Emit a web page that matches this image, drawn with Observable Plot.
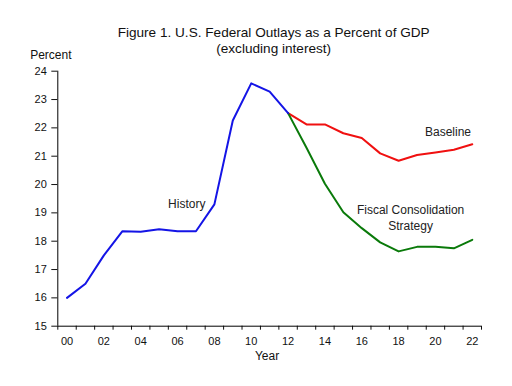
<!DOCTYPE html>
<html>
<head>
<meta charset="utf-8">
<script src="https://cdn.jsdelivr.net/npm/d3@7"></script>
<script src="https://cdn.jsdelivr.net/npm/@observablehq/plot@0.6"></script>
<style>
  html, body { margin: 0; padding: 0; background: #fff; }
</style>
</head>
<body>
<div id="chart"></div>
<script>
const titleLine1 = "Figure 1. U.S. Federal Outlays as a Percent of GDP";
const titleLine2 = "(excluding interest)";
const yLabel = "Percent";
const xLabel = "Year";

const historyYears = [2000, 2001, 2002, 2003, 2004, 2005, 2006, 2007, 2008, 2009, 2010, 2011, 2012];
const historyValues = [16.0, 16.5, 17.5, 18.35, 18.33, 18.42, 18.35, 18.35, 19.3, 22.26, 23.57, 23.28, 22.52];

const projYears = [2012, 2013, 2014, 2015, 2016, 2017, 2018, 2019, 2020, 2021, 2022];
const baselineValues = [22.52, 22.12, 22.12, 21.81, 21.64, 21.1, 20.84, 21.04, 21.13, 21.23, 21.42];
const fiscalValues = [22.52, 21.3, 20.03, 19.02, 18.46, 17.96, 17.64, 17.8, 17.8, 17.75, 18.05];

const yTicks = [15, 16, 17, 18, 19, 20, 21, 22, 23, 24];
const xLabelYears = [2000, 2002, 2004, 2006, 2008, 2010, 2012, 2014, 2016, 2018, 2020, 2022];

const annotations = [
  {x: 2006.5, y: 19.34, text: "History"},
  {x: 2020.68, y: 21.88, text: "Baseline"},
  {x: 2018.65, y: 18.85, text: "Fiscal Consolidation\nStrategy"}
];

const history = historyYears.map((x, i) => ({x, y: historyValues[i]}));
const baseline = projYears.map((x, i) => ({x, y: baselineValues[i]}));
const fiscal = projYears.map((x, i) => ({x, y: fiscalValues[i]}));

const xMin = historyYears[0] - 0.5;
const xMax = projYears[projYears.length - 1] + 0.5;
const bandEdges = d3.range(xMin, xMax + 0.001, 1);

const font = "'Liberation Sans', Arial, sans-serif";

const chart = Plot.plot({
  width: 512,
  height: 386,
  marginLeft: 57.3,
  marginRight: 31,
  marginTop: 70.7,
  marginBottom: 60.3,
  style: {fontFamily: font, fontSize: "11px", color: "#111", background: "#fff"},
  x: {domain: [xMin, xMax]},
  y: {domain: [15, 24]},
  marks: [
    Plot.axisY({ticks: yTicks, tickSize: 6, tickPadding: 5, label: null, fontSize: 11}),
    Plot.axisX({ticks: bandEdges, tickSize: 4, tickFormat: () => "", label: null}),
    Plot.axisX({ticks: xLabelYears, tickSize: 0, tickPadding: 11, label: null, fontSize: 11,
      tickFormat: d => String(d % 100).padStart(2, "0")}),
    Plot.ruleX([xMin], {stroke: "#000"}),
    Plot.ruleY([15], {stroke: "#000"}),
    Plot.line(baseline, {x: "x", y: "y", stroke: "#f01010", strokeWidth: 2}),
    Plot.line(fiscal, {x: "x", y: "y", stroke: "#0a7a0a", strokeWidth: 2}),
    Plot.line(history, {x: "x", y: "y", stroke: "#1414e6", strokeWidth: 2}),
    Plot.text(annotations, {x: "x", y: "y", text: "text", fontSize: 12, fill: "#222", lineHeight: 1.27, lineAnchor: "middle"}),
    Plot.text([titleLine1], {frameAnchor: "top", dx: 4, dy: -38.7, lineAnchor: "middle", fontSize: 13.6, fill: "#111"}),
    Plot.text([titleLine2], {frameAnchor: "top", dx: 4, dy: -22.3, lineAnchor: "middle", fontSize: 13.6, fill: "#111"}),
    Plot.text([yLabel], {frameAnchor: "top-left", textAnchor: "end", dx: 13.7, dy: -15.7, lineAnchor: "middle", fontSize: 12, fill: "#111"}),
    Plot.text([xLabel], {frameAnchor: "bottom", dx: -2.6, dy: 29.5, lineAnchor: "middle", fontSize: 12, fill: "#111"})
  ]
});

document.getElementById("chart").appendChild(chart);
</script>
</body>
</html>
